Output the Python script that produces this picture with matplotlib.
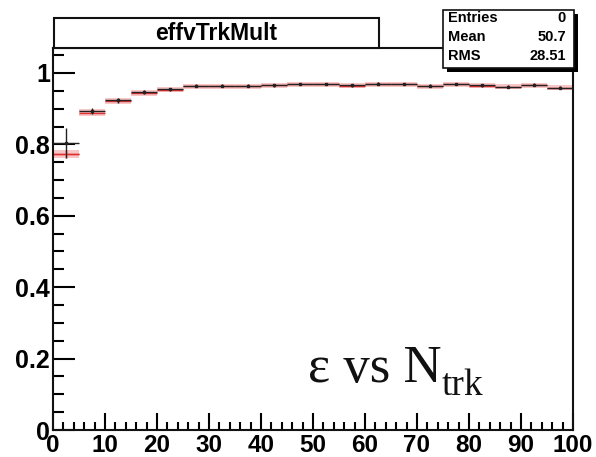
import numpy as np
from matplotlib import pyplot as plt
from matplotlib.patches import Rectangle
from matplotlib.ticker import MultipleLocator

# track multiplicity bins (width 5) and efficiency per bin
bin_lo = np.arange(0, 100, 5)
eff_data = [0.803, 0.893, 0.923, 0.946, 0.954, 0.964, 0.964, 0.964, 0.966, 0.969,
            0.969, 0.965, 0.970, 0.969, 0.964, 0.969, 0.965, 0.962, 0.967, 0.959]
err_data = [0.042, 0.009, 0.007, 0.006, 0.005, 0.004, 0.004, 0.004, 0.004, 0.004,
            0.004, 0.004, 0.004, 0.004, 0.004, 0.004, 0.004, 0.004, 0.004, 0.005]
eff_ref = [0.773, 0.889, 0.921, 0.944, 0.953, 0.963, 0.963, 0.963, 0.965, 0.968,
           0.968, 0.964, 0.969, 0.968, 0.963, 0.968, 0.964, 0.961, 0.966, 0.958]
err_ref = [0.010, 0.009, 0.008, 0.008, 0.007, 0.007, 0.007, 0.007, 0.007, 0.007,
           0.007, 0.007, 0.007, 0.007, 0.007, 0.007, 0.007, 0.007, 0.007, 0.007]
stats_names = ['Entries', 'Mean', 'RMS']
stats_vals = ['0', '50.7', '28.51']

width = 5
centers = bin_lo + width / 2.0

fig = plt.figure(figsize=(5.96, 4.57), dpi=100)
ax = fig.add_axes([53 / 596, 1 - 430 / 457, 520 / 596, 382 / 457])

# red reference: shaded error boxes plus a line per bin
ax.bar(centers, 2 * np.array(err_ref), bottom=np.array(eff_ref) - np.array(err_ref),
       width=width, color='#f7c6c6', edgecolor='none', zorder=1)
ax.hlines(eff_ref, bin_lo, bin_lo + width, color='#e03030', lw=1.0, zorder=2)
ax.errorbar(centers[:1], eff_ref[:1], xerr=width / 2.0, yerr=err_ref[:1],
            fmt='none', ecolor='#e03030', elinewidth=1.0, zorder=2)

# black data points
ax.errorbar(centers, eff_data, xerr=width / 2.0, yerr=err_data, fmt='s',
            ms=1.8, color='#222222', ecolor='#222222', elinewidth=1.0, zorder=3)

ax.set_xlim(0, 100)
ax.set_ylim(0, 1.07)
ax.xaxis.set_major_locator(MultipleLocator(10))
ax.xaxis.set_minor_locator(MultipleLocator(2))
ax.yaxis.set_minor_locator(MultipleLocator(0.05))
ax.set_yticks([0, 0.2, 0.4, 0.6, 0.8, 1.0])
ax.set_yticklabels(['0', '0.2', '0.4', '0.6', '0.8', '1'])
ax.tick_params(axis='y', which='major', direction='in', length=16, width=1.5, pad=2)
ax.tick_params(axis='y', which='minor', direction='in', length=8, width=1.5)
ax.tick_params(axis='x', which='major', direction='in', length=12, width=1.5, pad=3)
ax.tick_params(axis='x', which='minor', direction='in', length=6, width=1.5)
ax.tick_params(top=False, right=False, which='both')
for lab in ax.get_xticklabels():
    lab.set_fontfamily('Liberation Sans')
    lab.set_fontweight('bold')
    lab.set_fontsize(17.5)
for lab in ax.get_yticklabels():
    lab.set_fontfamily('Liberation Sans')
    lab.set_fontweight('bold')
    lab.set_fontsize(18)
for sp in ax.spines.values():
    sp.set_linewidth(1.5)
    sp.set_color('#111111')

# "eps vs N_trk" label, subscript drawn as its own text so it sits lower
ax.text(0.490, 0.1257, '\u03b5 vs N', transform=ax.transAxes, fontsize=38,
        fontfamily='Liberation Serif', color='#111111', va='baseline', ha='left')
ax.text(0.748, 0.0916, 'trk', transform=ax.transAxes, fontsize=27,
        fontfamily='Liberation Serif', color='#111111', va='baseline', ha='left')

# title box
fig.patches.append(Rectangle((54 / 596, 1 - 48 / 457), 325 / 596, 30 / 457,
                             transform=fig.transFigure, facecolor='white',
                             edgecolor='#111111', lw=1.5))
fig.text(216 / 596, 1 - 33 / 457, 'effvTrkMult', ha='center', va='center',
         fontsize=16.5, fontweight='bold', fontfamily='Liberation Sans')

# stats box with shadow
fig.patches.append(Rectangle((447 / 596, 1 - 72 / 457), 131 / 596, 58 / 457,
                             transform=fig.transFigure, facecolor='black',
                             edgecolor='black', lw=0))
fig.patches.append(Rectangle((443 / 596, 1 - 68 / 457), 131 / 596, 58 / 457,
                             transform=fig.transFigure, facecolor='white',
                             edgecolor='#111111', lw=1.2))
for i, (name, val) in enumerate(zip(stats_names, stats_vals)):
    y = 1 - (18 + 19 * i) / 457
    fig.text(448 / 596, y, name, ha='left', va='center', fontsize=10.5,
             fontweight='bold', fontfamily='Liberation Sans')
    fig.text(566 / 596, y, val, ha='right', va='center', fontsize=10.5,
             fontweight='bold', fontfamily='Liberation Sans')

fig.savefig('out.png', dpi=100)
